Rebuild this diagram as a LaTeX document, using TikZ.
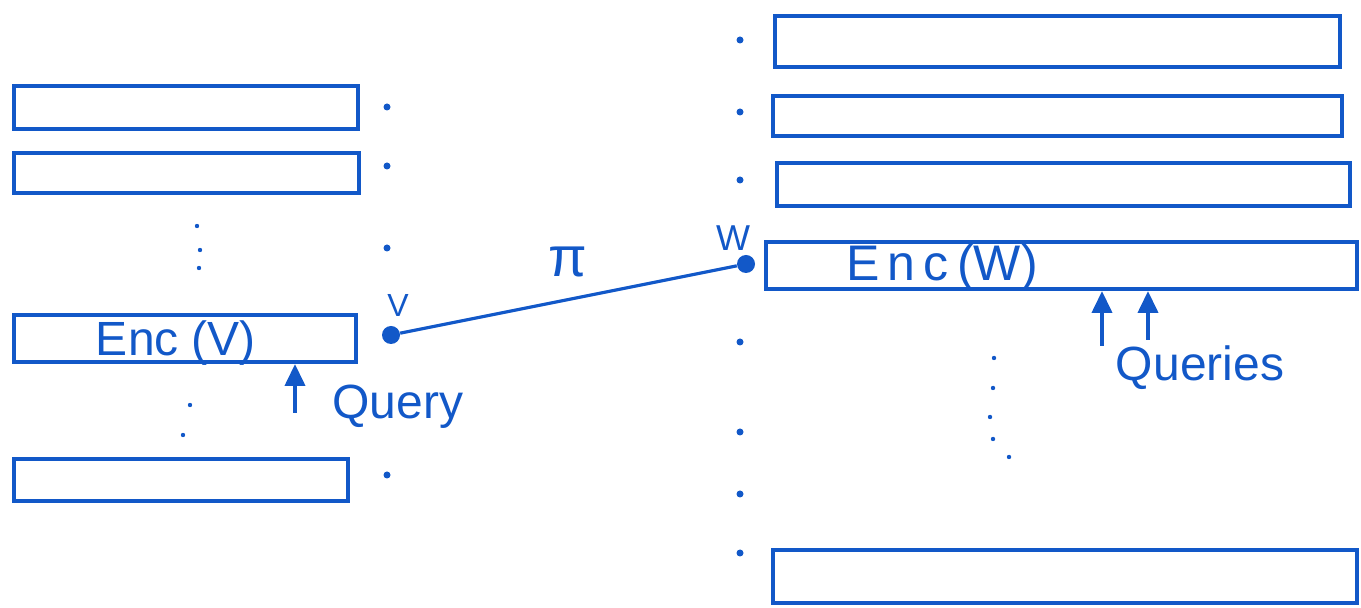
\documentclass[tikz,border=0pt]{standalone}
\usepackage{fontspec}
\setmainfont{Liberation Sans}
\usetikzlibrary{fit,arrows.meta}
\definecolor{pen}{RGB}{18,88,200}
\begin{document}
\begin{tikzpicture}[x=0.5pt,y=-0.5pt,
  box/.style={draw=pen, line width=2pt, inner sep=0pt, rectangle},
  dot/.style={circle, fill=pen, inner sep=0pt, minimum size=3.5pt},
  tinydot/.style={circle, fill=pen, inner sep=0pt, minimum size=2.2pt},
  bigdot/.style={circle, fill=pen, inner sep=0pt, minimum size=9pt},
  lbl/.style={text=pen, font=\fontsize{24}{28}\selectfont, inner sep=0pt},
  arr/.style={draw=pen, line width=2pt, -{Triangle[width=10pt,length=11pt]}},
  link/.style={draw=pen, line width=1.6pt}]
\useasboundingbox (0,0) rectangle (1361,608);

% left column
\node[box, fit={(14,86) (358,129)}] (L1) {};
\node[box, fit={(14,153) (359,193)}] (L2) {};
\node[box, fit={(14,315) (356,362)}] (L3) {};
\node[box, fit={(14,459) (348,501)}] (L4) {};

% right column
\node[box, fit={(775,16) (1340,67)}] (R1) {};
\node[box, fit={(773,96) (1342,136)}] (R2) {};
\node[box, fit={(777,163) (1350,206)}] (R3) {};
\node[box, fit={(766,242) (1357,289)}] (R4) {};
\node[box, fit={(773,550) (1357,603)}] (R5) {};

% box texts
\node[lbl] (encv) at (176,343) {Enc (V)};
\node[lbl, font=\fontsize{25}{28}\selectfont] (encw) at (942,268) {E\,n\,c\,(W)};

% column dots
\foreach \y [count=\i] in {107,166,248,475}
  \node[dot] (ld\i) at (387,\y) {};
\foreach \y [count=\i] in {40,112,180,342,432,494,553}
  \node[dot] (rd\i) at (740,\y) {};

% vertical ellipses
\foreach \x/\y [count=\i] in {197/226,200/250,199/268,190/405,183/435}
  \node[tinydot] (le\i) at (\x,\y) {};
\foreach \x/\y [count=\i] in {994/358,993/388,990/417,993/439,1009/457}
  \node[tinydot] (re\i) at (\x,\y) {};

% V and W
\node[bigdot] (V) at (391,335) {};
\node[bigdot] (W) at (746,264) {};
\node[text=pen, font=\fontsize{16}{18}\selectfont, inner sep=0pt] (vl) at (398,305) {V};
\node[text=pen, font=\fontsize{18}{20}\selectfont, inner sep=0pt] (wl) at (733,238) {W};
\node[text=pen, font=\fontsize{28}{30}\selectfont, inner sep=0pt] (pil) at (568,262) {π};
\draw[link] (V) -- (W);

% queries
\coordinate (qv) at (295,413);
\draw[arr] (qv) -- (qv |- L3.south);
\node[lbl] (query) at (398,407) {Query};

\coordinate (qa) at (1102,346);
\coordinate (qb) at (1148,340);
\draw[arr] (qa) -- (qa |- R4.south);
\draw[arr] (qb) -- (qb |- R4.south);
\node[lbl] (queries) at (1200,368) {Queries};
\end{tikzpicture}
\end{document}
